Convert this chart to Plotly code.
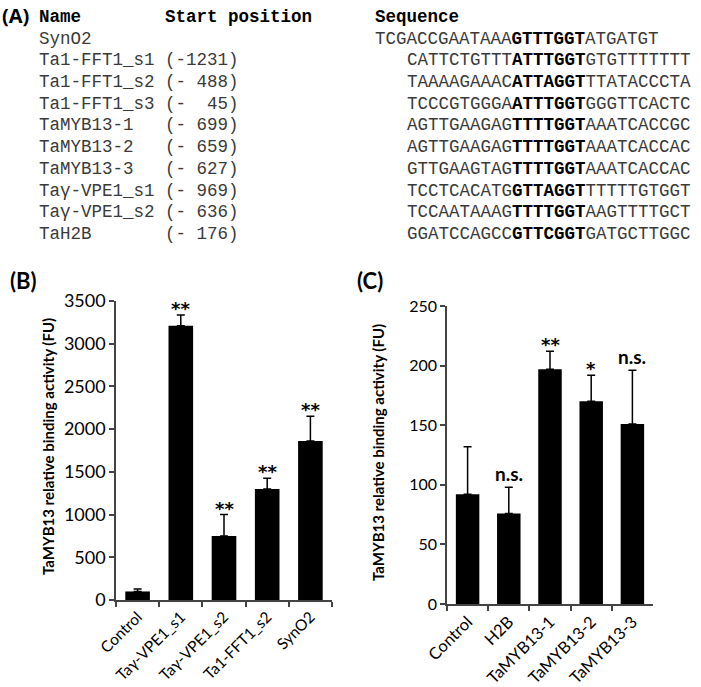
import plotly.graph_objects as go

W, H = 701, 687

# ---------------- Panel A data ----------------
names = ["SynO2", "Ta1-FFT1_s1", "Ta1-FFT1_s2", "Ta1-FFT1_s3", "TaMYB13-1",
         "TaMYB13-2", "TaMYB13-3", "Taγ-VPE1_s1", "Taγ-VPE1_s2", "TaH2B"]
positions = ["", "(-1231)", "(- 488)", "(-  45)", "(- 699)",
             "(- 659)", "(- 627)", "(- 969)", "(- 636)", "(- 176)"]
seq_left = ["TCGACCGAATAAA", "CATTCTGTTT", "TAAAAGAAAC", "TCCCGTGGGA", "AGTTGAAGAG",
            "AGTTGAAGAG", "GTTGAAGTAG", "TCCTCACATG", "TCCAATAAAG", "GGATCCAGCC"]
seq_core = ["GTTTGGT", "ATTTGGT", "ATTAGGT", "ATTTGGT", "TTTTGGT",
            "TTTTGGT", "TTTTGGT", "GTTAGGT", "TTTTGGT", "GTTCGGT"]
seq_right = ["ATGATGT", "GTGTTTTTTT", "TTATACCCTA", "GGGTTCACTC", "AAATCACCGC",
             "AAATCACCAC", "AAATCACCAC", "TTTTTGTGGT", "AAGTTTTGCT", "GATGCTTGGC"]
seq_indent = [0, 3, 3, 3, 3, 3, 3, 3, 3, 3]

# ---------------- Panel B data ----------------
cats_b = ["Control", "Taγ-VPE1_s1", "Taγ-VPE1_s2", "Ta1-FFT1_s2", "SynO2"]
vals_b = [100, 3210, 750, 1300, 1860]
err_b = [30, 125, 250, 125, 290]
sig_b = ["", "**", "**", "**", "**"]

# ---------------- Panel C data ----------------
cats_c = ["Control", "H2B", "TaMYB13-1", "TaMYB13-2", "TaMYB13-3"]
vals_c = [92, 76, 197, 170, 151]
err_c = [40, 22, 15, 22, 45]
sig_c = ["", "n.s.", "**", "*", "n.s."]

ytitle = "TaMYB13 relative binding activity (FU)"
SANS = "Lato"
MONO = "Liberation Mono"


def px(x):
    return x / W


def py(y):
    return 1 - y / H


fig = go.Figure()

fig.add_trace(go.Bar(
    x=cats_b, y=vals_b, width=0.57, marker=dict(color="black", line=dict(width=0)),
    error_y=dict(type="data", symmetric=False, array=err_b, arrayminus=[0] * len(err_b),
                 color="black", thickness=1.5, width=4),
    xaxis="x", yaxis="y", showlegend=False, hoverinfo="skip"))

fig.add_trace(go.Bar(
    x=cats_c, y=vals_c, width=0.57, marker=dict(color="black", line=dict(width=0)),
    error_y=dict(type="data", symmetric=False, array=err_c, arrayminus=[0] * len(err_c),
                 color="black", thickness=1.5, width=4),
    xaxis="x2", yaxis="y2", showlegend=False, hoverinfo="skip"))

axis_common = dict(showline=True, linecolor="#444", linewidth=1.5, ticks="outside",
                   ticklen=5, tickwidth=1.5, tickcolor="#444", showgrid=False,
                   zeroline=False, fixedrange=True, automargin=False)

fig.update_layout(
    width=W, height=H, margin=dict(l=0, r=0, t=0, b=0, pad=0),
    paper_bgcolor="white", plot_bgcolor="white",
    font=dict(family=SANS, color="black"),
    xaxis=dict(domain=[px(116), px(332)], type="category", tickson="boundaries",
               tickangle=-45, tickfont=dict(size=15.5, family=SANS, color="black"),
               anchor="y", **axis_common),
    yaxis=dict(domain=[py(600), py(301)], range=[0, 3500], dtick=500,
               tickfont=dict(size=18, family=SANS, color="black"), anchor="x",
               **axis_common),
    xaxis2=dict(domain=[px(447), px(653)], type="category", tickson="boundaries",
                tickangle=-45, tickfont=dict(size=16.5, family=SANS, color="black"),
                anchor="y2", **axis_common),
    yaxis2=dict(domain=[py(604), py(306)], range=[0, 250], dtick=50,
                tickfont=dict(size=16, family=SANS, color="black"), anchor="x2",
                **axis_common),
)

ann = []
NB = "\u00a0"

# Panel labels
ann.append(dict(text="<b>(A)</b>", x=px(0), y=py(16), xanchor="left", yanchor="middle",
                font=dict(family="Open Sans", size=20, color="black")))
ann.append(dict(text="<b>(B)</b>", x=px(8), y=py(280), xanchor="left", yanchor="middle",
                font=dict(family=SANS, size=22, color="black")))
ann.append(dict(text="<b>(C)</b>", x=px(355), y=py(280), xanchor="left", yanchor="middle",
                font=dict(family=SANS, size=22, color="black")))

# Panel A table
FS = 17.5
CW = FS * 0.6
x0 = 37
row0 = 17
dy = 21.7
hdr_font = dict(family=MONO, size=FS, color="black")
ann.append(dict(text="<b>Name</b>", x=px(x0), y=py(row0), xanchor="left", yanchor="middle", font=hdr_font))
ann.append(dict(text="<b>Start" + NB + "position</b>", x=px(x0 + 12 * CW), y=py(row0),
                xanchor="left", yanchor="middle", font=hdr_font))
ann.append(dict(text="<b>Sequence</b>", x=px(x0 + 32 * CW), y=py(row0),
                xanchor="left", yanchor="middle", font=hdr_font))
body_font = dict(family=MONO, size=FS, color="#3a3a3a")
for i, nm in enumerate(names):
    yy = py(row0 + dy * (i + 1))
    ann.append(dict(text=nm, x=px(x0), y=yy, xanchor="left", yanchor="middle", font=body_font))
    if positions[i]:
        ann.append(dict(text=positions[i].replace(" ", NB), x=px(x0 + 12 * CW), y=yy,
                        xanchor="left", yanchor="middle", font=body_font))
    seq = seq_left[i] + "<b><span style='color:black'>" + seq_core[i] + "</span></b>" + seq_right[i]
    ann.append(dict(text=seq, x=px(x0 + (32 + seq_indent[i]) * CW), y=yy,
                    xanchor="left", yanchor="middle", font=body_font))

# Y-axis titles
ann.append(dict(text="<b>" + ytitle + "</b>", x=px(48), y=py(447), textangle=-90,
                xanchor="center", yanchor="middle", font=dict(family=SANS, size=15, color="black")))
ann.append(dict(text="<b>" + ytitle + "</b>", x=px(378), y=py(452), textangle=-90,
                xanchor="center", yanchor="middle", font=dict(family=SANS, size=15, color="black")))

# Significance marks
STAR_FONT = dict(family="DejaVu Sans", size=18, color="black")
NS_FONT = dict(family=SANS, size=19, color="black")
for c, v, e, s in zip(cats_b, vals_b, err_b, sig_b):
    if s:
        star = "*" in s
        ann.append(dict(text="<b>" + s + "</b>", x=c, y=v + e, xref="x", yref="y",
                        xanchor="center", yanchor="bottom",
                        yshift=-6 if star else 0,
                        font=STAR_FONT if star else NS_FONT))
for c, v, e, s in zip(cats_c, vals_c, err_c, sig_c):
    if s:
        star = "*" in s
        ann.append(dict(text="<b>" + s + "</b>", x=c, y=v + e, xref="x2", yref="y2",
                        xanchor="center", yanchor="bottom",
                        yshift=-6 if star else 0,
                        font=STAR_FONT if star else NS_FONT))

for a in ann:
    a.setdefault("xref", "paper")
    a.setdefault("yref", "paper")
    a["showarrow"] = False

fig.update_layout(annotations=ann)
fig.write_html("out.html", config={"displayModeBar": False},
               post_script="document.body.style.margin='0';document.body.style.overflow='hidden';")
